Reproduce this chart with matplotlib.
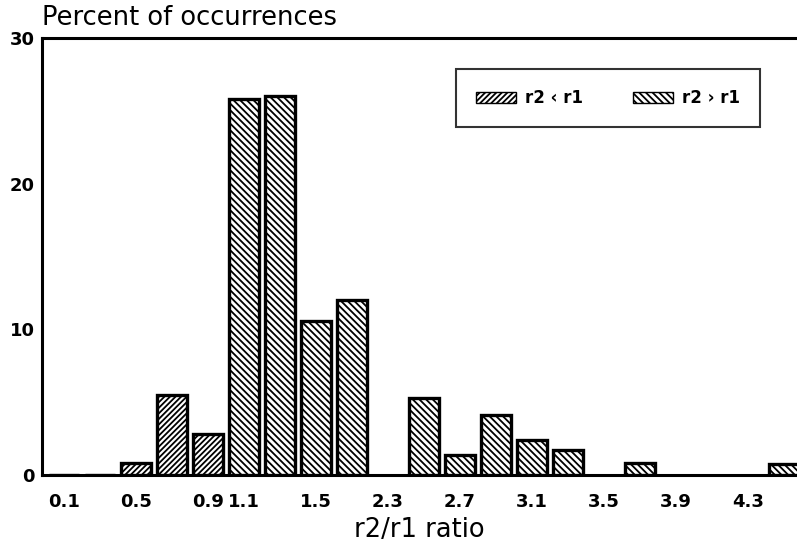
import matplotlib
matplotlib.use("Agg")
import matplotlib.pyplot as plt
from matplotlib.patches import Patch

# Data (categorical bins along the x axis)
bin_labels = ["0.1", "", "0.5", "", "0.9", "1.1", "", "1.5", "", "2.3", "",
              "2.7", "", "3.1", "", "3.5", "", "3.9", "", "4.3", ""]
r2_lt_r1 = [0.0, 0.0, 0.8, 5.5, 2.8, 0, 0, 0, 0, 0, 0,
            0, 0, 0, 0, 0, 0, 0, 0, 0, 0]
r2_gt_r1 = [0, 0, 0, 0, 0, 25.8, 26.0, 10.6, 12.0, 0.0, 5.3,
            1.4, 4.1, 2.4, 1.7, 0.0, 0.8, 0.0, 0.0, 0.0, 0.75]
lt_idx = [0, 1, 2, 3, 4]
gt_idx = [5, 6, 7, 8, 10, 11, 12, 13, 14, 16, 20]
yticks = [0, 10, 20, 30]

plt.rcParams['font.family'] = ['DejaVu Sans']
plt.rcParams['hatch.linewidth'] = 1.3

fig = plt.figure(figsize=(7.97, 5.48), dpi=100)
ax = fig.add_axes([42/797, 1-475/548, 755/797, 437/548])

bw = 0.85
ax.bar(lt_idx, [r2_lt_r1[i] for i in lt_idx], width=bw, color='white',
       edgecolor='black', linewidth=2.4, hatch='//////', zorder=3)
ax.bar(gt_idx, [r2_gt_r1[i] for i in gt_idx], width=bw, color='white',
       edgecolor='black', linewidth=2.4, hatch='\\\\\\\\\\', zorder=3)

ax.set_xlim(-0.61, 20.36)
ax.set_ylim(0, 30)
ax.set_xticks(range(len(bin_labels)))
ax.set_xticklabels(bin_labels, fontsize=13, fontweight='bold')
ax.set_yticks(yticks)
ax.set_yticklabels([str(v) for v in yticks], fontsize=13, fontweight='bold')
ax.tick_params(axis='both', length=0)
ax.tick_params(axis='x', pad=13)
ax.tick_params(axis='y', pad=5)

for s in ['left', 'top', 'bottom']:
    ax.spines[s].set_linewidth(2.2)
ax.spines['right'].set_visible(False)

ax.set_xlabel("r2/r1 ratio", fontsize=18.5, labelpad=4)
fig.text(42/797, 1-25/548, "Percent of occurrences", fontsize=18.5,
         ha='left', va='baseline')

handles = [Patch(facecolor='white', edgecolor='black', hatch='//////', linewidth=1.0),
           Patch(facecolor='white', edgecolor='black', hatch='\\\\\\\\\\', linewidth=1.0)]
leg = ax.legend(handles, ["r2 \u2039 r1", "r2 \u203a r1"], ncol=2,
                loc='upper left', bbox_to_anchor=(0.548, 0.789, 0.403, 0.14),
                mode='expand', frameon=True, fancybox=False, borderaxespad=0,
                handlelength=2.4, handleheight=0.66, handletextpad=0.55,
                borderpad=1.2, columnspacing=2.1, prop={'weight': 'bold', 'size': 12})
leg.get_frame().set_edgecolor('black')
leg.get_frame().set_linewidth(1.5)

fig.savefig("out.png", dpi=100)
